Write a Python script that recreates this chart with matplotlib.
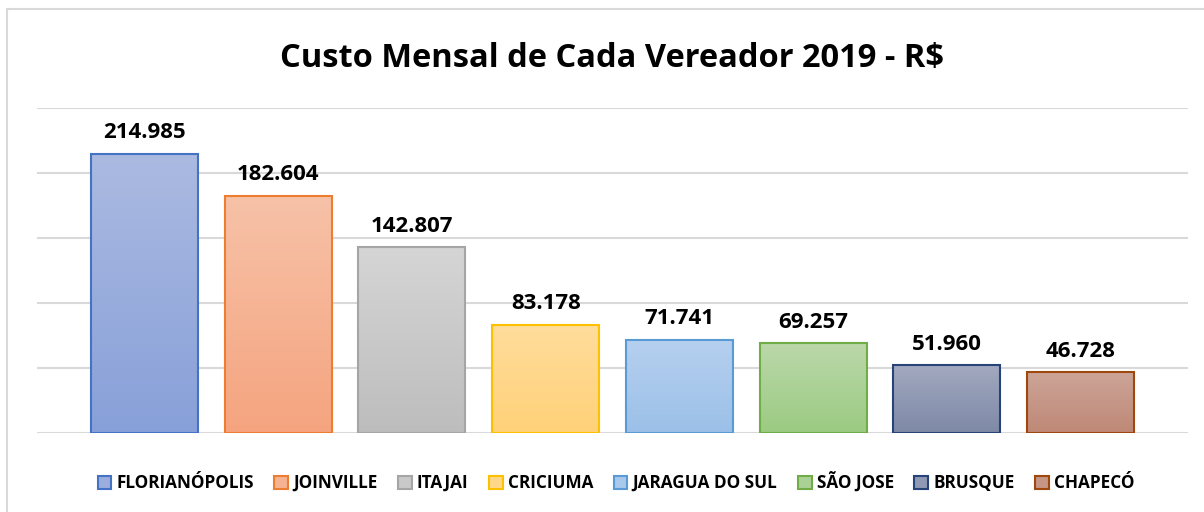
import matplotlib.pyplot as plt
import matplotlib.colors as mcolors
from matplotlib.patches import Patch, Rectangle
import numpy as np

cidades = ["FLORIANÓPOLIS", "JOINVILLE", "ITAJAI", "CRICIUMA",
           "JARAGUA DO SUL", "SÃO JOSE", "BRUSQUE", "CHAPECÓ"]
custos = [214985, 182604, 142807, 83178, 71741, 69257, 51960, 46728]
rotulos = ["214.985", "182.604", "142.807", "83.178",
           "71.741", "69.257", "51.960", "46.728"]

bordas = ['#4472c4', '#ed7d31', '#a5a5a5', '#ffc000',
          '#5b9bd5', '#70ad47', '#264478', '#9e480e']
topo = ['#abbae1', '#f7c2a8', '#d5d5d5', '#ffdd9c',
        '#b6d0ef', '#bbd8aa', '#a2a9bf', '#cca598']
base = ['#88a0d9', '#f5a47f', '#bdbdbd', '#ffd178',
        '#9bc0e8', '#9bcb82', '#7e89a7', '#bf8876']

plt.rcParams['font.family'] = ['Open Sans', 'DejaVu Sans']

fig = plt.figure(figsize=(12.04, 5.12), dpi=100)
# borda externa do gráfico (só topo e esquerda aparecem)
fig.patches.append(Rectangle((7/1204, -0.1), 1.2, 1 - 9/512 + 0.1,
                             transform=fig.transFigure, fill=False,
                             edgecolor='#d9d9d9', linewidth=1.5))

ax = fig.add_axes([37/1204, 79/512, 1151/1204, 325/512])
x = np.arange(len(cidades))
largura = 0.8

barras = ax.bar(x, custos, width=largura, color='none', edgecolor=bordas,
                linewidth=1.5, zorder=3)

# degradê dentro de cada barra
for i, b in enumerate(barras):
    cmap = mcolors.LinearSegmentedColormap.from_list('g', [base[i], topo[i]])
    grad = np.linspace(0, 1, 256).reshape(-1, 1)
    im = ax.imshow(grad, cmap=cmap, aspect='auto', origin='lower',
                   extent=[b.get_x(), b.get_x() + largura, 0, custos[i]],
                   zorder=2)
    im.set_clip_path(b)
    ax.text(x[i], custos[i] + 8000, rotulos[i], ha='center', va='bottom',
            fontsize=16, fontweight='bold', color='black')

ax.set_xlim(3.5 - 1151 / 2 / 133.7, 3.5 + 1151 / 2 / 133.7)
ax.set_ylim(0, 250000)
ax.set_yticks(np.arange(0, 250001, 50000))
ax.grid(axis='y', color='#d9d9d9', linewidth=1.5, zorder=0)
ax.set_axisbelow(True)
ax.tick_params(left=False, bottom=False, labelleft=False, labelbottom=False)
for s in ax.spines.values():
    s.set_visible(False)

fig.text(612/1204, 1 - 58/512, "Custo Mensal de Cada Vereador 2019 - R$",
         ha='center', va='center', fontsize=23.5, fontweight='bold')

handles = [Patch(facecolor=mcolors.to_hex(np.mean([mcolors.to_rgb(topo[i]),
                                                    mcolors.to_rgb(base[i])], axis=0)),
                 edgecolor=bordas[i], linewidth=1.5) for i in range(len(cidades))]
fig.legend(handles, cidades, loc='center', bbox_to_anchor=(616/1204, 1 - 482/512),
           ncol=8, frameon=False, handlelength=0.8, handleheight=0.8,
           handletextpad=0.3, columnspacing=1.2,
           prop={'weight': 'bold', 'size': 12.3})

plt.savefig("out.png", dpi=100)
